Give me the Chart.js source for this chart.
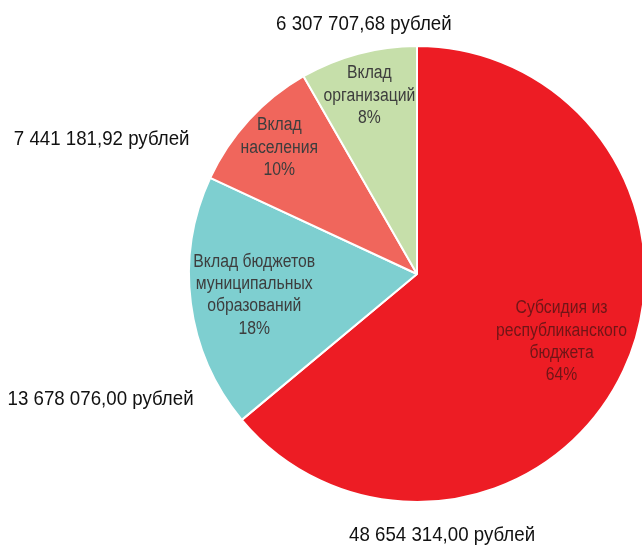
<!DOCTYPE html>
<html>
<head>
<meta charset="utf-8">
<script src="https://cdn.jsdelivr.net/npm/chart.js@4/dist/chart.umd.min.js"></script>
<style>
  html, body { margin: 0; padding: 0; background: #ffffff; }
  #wrap { width: 642px; height: 549px; position: relative; }
</style>
</head>
<body>
<div id="wrap"><canvas id="c" width="642" height="549"></canvas></div>
<script>
// ---- data ----
const categories = [
  ["Субсидия из", "республиканского", "бюджета"],
  ["Вклад бюджетов", "муниципальных", "образований"],
  ["Вклад", "населения"],
  ["Вклад", "организаций"]
];
const values = [48654314.00, 13678076.00, 7441181.92, 6307707.68];
const unit = "рублей";

// ---- styles ----
const colors = ["#ED1C24", "#7ECFD0", "#F0665C", "#C6DFAA"];
const innerTextColors = ["rgba(80,20,20,0.8)", "#3d3d3d", "#3d3d3d", "#3d3d3d"];
// inner label: radial factor (of radius) along slice mid-angle
const innerRadial = [0.70, 0.72, 0.82, 0.81];
// outer label anchor offset from pie centre, in radius units
const outerOffset = [[0.11, 1.145], [-1.388, 0.55], [-1.383, -0.59], [-0.233, -1.097]];

function fmtMoney(v) {
  const s = v.toFixed(2);
  const parts = s.split(".");
  const intPart = parts[0].replace(/\B(?=(\d{3})+(?!\d))/g, " ");
  return intPart + "," + parts[1] + " " + unit;
}

const total = values.reduce((a, b) => a + b, 0);

function condensedText(ctx, text, x, y, sx) {
  ctx.save();
  ctx.translate(x, y);
  ctx.scale(sx, 1);
  ctx.fillText(text, 0, 0);
  ctx.restore();
}

const labelPlugin = {
  id: "sliceLabels",
  afterDatasetsDraw(chart) {
    const ctx = chart.ctx;
    const meta = chart.getDatasetMeta(0);
    ctx.save();
    ctx.textAlign = "center";
    ctx.textBaseline = "middle";
    meta.data.forEach((arc, i) => {
      const p = arc.getProps(["x", "y", "startAngle", "endAngle", "outerRadius"], true);
      const mid = (p.startAngle + p.endAngle) / 2;
      const r = p.outerRadius;
      // inner label
      const pct = Math.round(values[i] / total * 100) + "%";
      const lines = categories[i].concat([pct]);
      const lh = 22.3;
      const cx = p.x + Math.cos(mid) * r * innerRadial[i];
      const cy = p.y + Math.sin(mid) * r * innerRadial[i];
      ctx.font = '18px "Liberation Sans", Arial, sans-serif';
      ctx.fillStyle = innerTextColors[i];
      lines.forEach((ln, k) => {
        condensedText(ctx, ln, cx, cy + (k - (lines.length - 1) / 2) * lh, 0.875);
      });
      // outer value label
      ctx.font = '21px "Liberation Sans", Arial, sans-serif';
      ctx.fillStyle = "#111111";
      condensedText(ctx, fmtMoney(values[i]), p.x + outerOffset[i][0] * r, p.y + outerOffset[i][1] * r, 0.89);
    });
    ctx.restore();
  }
};

new Chart(document.getElementById("c"), {
  type: "pie",
  data: {
    labels: categories.map(c => c.join(" ")),
    datasets: [{
      data: values,
      backgroundColor: colors,
      borderColor: "#ffffff",
      borderWidth: 2
    }]
  },
  options: {
    responsive: false,
    animation: false,
    radius: 228,
    layout: { padding: { left: 192, right: 0, top: 47, bottom: 48 } },
    plugins: {
      legend: { display: false },
      tooltip: { enabled: false }
    }
  },
  plugins: [labelPlugin]
});
</script>
</body>
</html>
